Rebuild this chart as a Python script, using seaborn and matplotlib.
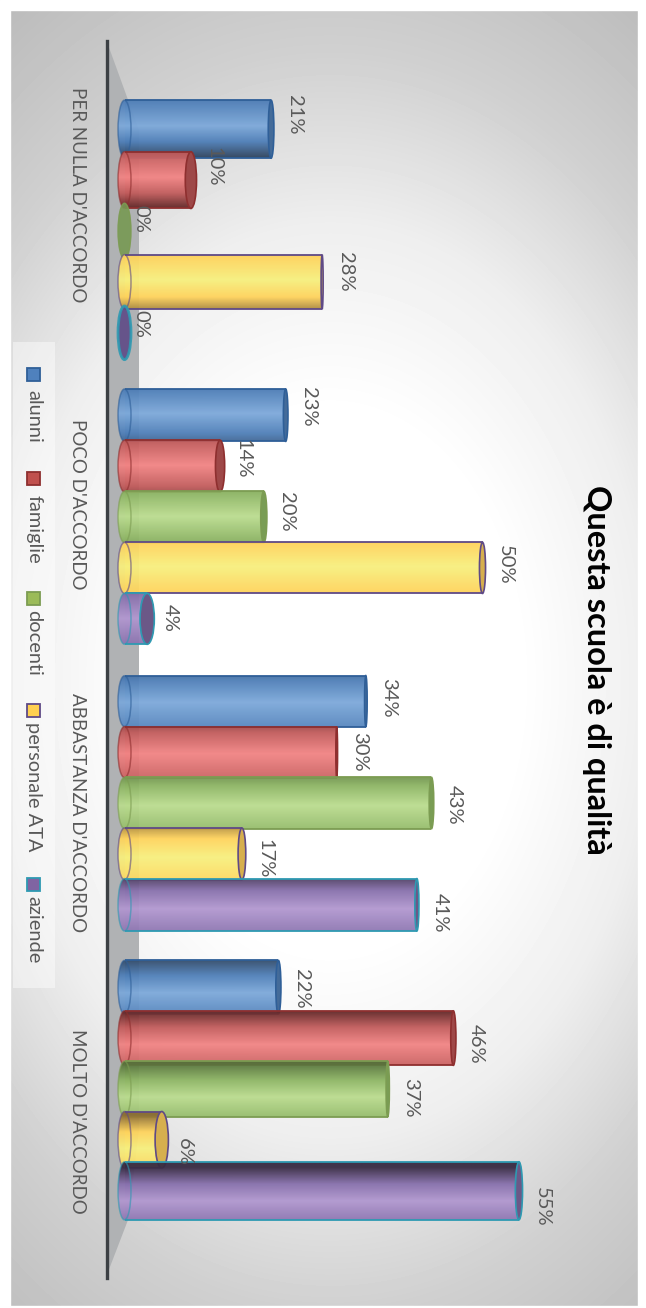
import numpy as np
import pandas as pd
import seaborn as sns
import matplotlib
matplotlib.use("Agg")
import matplotlib.pyplot as plt
from matplotlib.colors import to_rgb
from matplotlib.patches import Ellipse, Polygon, Rectangle
from matplotlib.transforms import ScaledTranslation

categories = ["PER NULLA D'ACCORDO", "POCO D'ACCORDO", "ABBASTANZA D'ACCORDO", "MOLTO D'ACCORDO"]
alunni = [21, 23, 34, 22]
famiglie = [10, 14, 30, 46]
docenti = [0, 20, 43, 37]
personale_ata = [28, 50, 17, 6]
aziende = [0, 4, 41, 55]
series_names = ["alunni", "famiglie", "docenti", "personale ATA", "aziende"]
title = "Questa scuola è di qualità"

W, H = 646, 1308
PX = 7.29          # pixels per percentage point
X0 = 118           # pixel of value 0
GROUP = 286        # pixels between groups
G0 = 231           # pixel of first group's centre

palette = ["#4F81BD", "#C0504D", "#9BBB59", "#FFD050", "#8064A2"]
bright = ["#7DA9DA", "#F28484", "#BBDC8F", "#F7F07E", "#B298D0"]
mid = ["#4F7FB8", "#C25C5C", "#8DB564", "#FFD35C", "#8770AC"]
dark = ["#2F4560", "#5A2323", "#55703A", "#8A6C34", "#372A42"]
edge = ["#2F5F98", "#8E2F2F", "#7C9C52", "#5F4A86", "#2E9AB2"]

sns.set_style("white")
plt.rcParams["font.family"] = ["Lato", "DejaVu Sans"]

df = pd.DataFrame({
    "cat": categories * 5,
    "serie": np.repeat(series_names, 4),
    "val": alunni + famiglie + docenti + personale_ata + aziende,
})

fig = plt.figure(figsize=(W / 100, H / 100), dpi=100, facecolor="white")

# background panel
bg = fig.add_axes([0, 0, 1, 1], zorder=0)
yy, xx = np.mgrid[0:H, 0:W]
r = np.sqrt(((xx - 330) / 520.0) ** 2 + ((yy - 680) / 740.0) ** 2)
v = np.interp(r, [0, .38, .62, .85, 1.09], [255, 254, 238, 208, 188]) / 255
bg.imshow(v, cmap="gray", vmin=0, vmax=1, extent=(0, W, H, 0), aspect="auto", zorder=0)
bg.add_patch(Rectangle((0, 0), 10, H, color="white", zorder=1))
bg.add_patch(Rectangle((638, 0), 8, H, color="white", zorder=1))
bg.add_patch(Rectangle((0, 0), W, 10, color="white", zorder=1))
bg.add_patch(Rectangle((0, 1306), W, 2, color="white", zorder=1))
bg.add_patch(Polygon([(107, 42), (139, 130), (139, 1130), (128, 1220), (108, 1272)],
                     color="#B0B2B4", zorder=2, lw=0))
bg.add_patch(Rectangle((13, 342), 42, 646, color="white", alpha=.45, lw=0, zorder=2))
bg.set_xlim(0, W)
bg.set_ylim(H, 0)
bg.axis("off")

# legend, rotated as in the source
leg_marks = [374, 478, 598, 710, 884]
leg_text = [390, 495, 610, 722, 896]
for i, name in enumerate(series_names):
    bg.add_patch(Rectangle((27, leg_marks[i] - 6.5), 13, 13, facecolor=palette[i],
                           edgecolor=edge[i], lw=1.3, zorder=3))
    bg.text(33.5, leg_text[i], name, rotation=270, ha="center", va="top",
            fontsize=14.4, color="#595959", zorder=3)

bg.text(596, 670, title, rotation=270, ha="center", va="center",
        fontsize=23.4, fontweight="bold", color="black", zorder=3)

# plot axes: left spine is the dark axis line
top, bottom, left, right = 41, 1278, 107, 560
ax = fig.add_axes([left / W, 1 - bottom / H, (right - left) / W, (bottom - top) / H],
                  zorder=1, facecolor="none")
sns.barplot(data=df, y="cat", x="val", hue="serie", orient="h", order=categories,
            hue_order=series_names, palette=palette, width=0.89, gap=0, dodge=True,
            legend=False, ax=ax, saturation=1)


def to_px(y):
    return G0 + y * GROUP


def lerp(a, b, t):
    return np.array(a) * (1 - t) + np.array(b) * t


CAP = 13 / PX  # width of base ellipse in value units
annots = []
for si, cont in enumerate(ax.containers):
    for gi, p in enumerate(cont.patches):
        val = p.get_width()
        yc = p.get_y() + p.get_height() / 2
        py = to_px(yc)
        s = (py - 660) / 600
        # perspective: bars far from the centre look taller
        scale = 1 + 0.18 * s ** 2
        h = p.get_height() * scale
        z = 3 + si * 0.1
        p.set_y(yc - h / 2)
        p.set_height(h)

        annots.append((val, yc, si, gi))
        if val == 0:
            p.set_visible(False)
            fc = lerp(to_rgb(mid[si]), to_rgb(dark[si]), .4) if si != 4 else to_rgb("#5E4A86")
            ax.add_patch(Ellipse((CAP / 2, yc), CAP, h, facecolor=fc,
                                 edgecolor=edge[si], lw=2 if si == 4 else 1, alpha=.9, zorder=z))
            continue

        # body: starts at the centre of the base ellipse
        p.set_x(CAP / 2)
        p.set_width(val - CAP / 2)
        pk = 0.5 + (0.2 * s if s > 0 else 0.05 * s)
        top_d = 0.55 + max(s, 0) * 0.7
        bot_d = 0.4 + max(-s, 0) * 0.7
        t = np.linspace(0, 1, 80)
        d = np.where(t < pk, top_d * (1 - t / pk), bot_d * (t - pk) / (1 - pk))
        rows = []
        for di in d:
            if di < .5:
                rows.append(lerp(to_rgb(bright[si]), to_rgb(mid[si]), di / .5))
            else:
                rows.append(lerp(to_rgb(mid[si]), to_rgb(dark[si]), min((di - .5) / .5, 1)))
        grad = np.array(rows)[:, None, :]
        im = ax.imshow(grad, extent=(0, val, yc + h / 2, yc - h / 2), origin="upper",
                       aspect="auto", zorder=z, alpha=.95)
        im.set_clip_path(p)
        p.set_facecolor("none")
        p.set_edgecolor("none")

        # base ellipse shares the body's shading, with a faint outline
        base = Ellipse((CAP / 2, yc), CAP, h, facecolor="none", edgecolor="none", zorder=z)
        ax.add_patch(base)
        im2 = ax.imshow(grad, extent=(0, val, yc + h / 2, yc - h / 2), origin="upper",
                        aspect="auto", zorder=z, alpha=.95)
        im2.set_clip_path(base)
        ax.add_patch(Ellipse((CAP / 2, yc), CAP, h, facecolor="none",
                             edgecolor=(*to_rgb(edge[si]), .6), lw=1.1, zorder=z + .02))
        ax.hlines([yc - h / 2, yc + h / 2], CAP / 2, val, colors=edge[si], lw=1.3, zorder=z + .01)

        # tip ellipse: wider when the bar ends far from the viewpoint
        tip_px = val * PX + X0 - 330
        tip = (abs(tip_px) * (0.07 if tip_px < 0 else 0.03) + 1.5) / PX
        ax.add_patch(Ellipse((val, yc), tip, h, facecolor=lerp(to_rgb(mid[si]), to_rgb(dark[si]), .35),
                             edgecolor=edge[si], lw=1.2, zorder=z + .02))

for val, yc, si, gi in annots:
    gc = to_px(gi)
    off = (gc - 720) * 0.024 + (si - 2) * (1.2 + (gc - 231) * 0.0027)
    # offset is relative to the dodged bar centre
    ax.annotate(f"{val:.0f}%", (val, yc),
                xytext=(23 * .72, -off * .72), textcoords="offset points",
                rotation=270, ha="center", va="center", fontsize=14.5, color="#595959",
                zorder=6, annotation_clip=False)

ax.set_xlim((left - X0) / PX, (right - X0) / PX)
ax.set_ylim((bottom - G0) / GROUP, (top - G0) / GROUP)
ax.set_xlabel("")
ax.set_ylabel("")
ax.xaxis.set_visible(False)
ax.tick_params(axis="y", length=0, pad=15.2, labelsize=13.5, labelcolor="#595959", labelrotation=270)
for gi, lab in enumerate(ax.get_yticklabels()):
    lab.set_va("center")
    shift = (to_px(gi) - 680) * 0.08
    lab.set_transform(lab.get_transform() + ScaledTranslation(0, -shift / 100, fig.dpi_scale_trans))
sns.despine(ax=ax, top=True, right=True, bottom=True, left=False)
ax.spines["left"].set_color("#3C4044")
ax.spines["left"].set_linewidth(2.4)

fig.savefig("out.png", dpi=100)
